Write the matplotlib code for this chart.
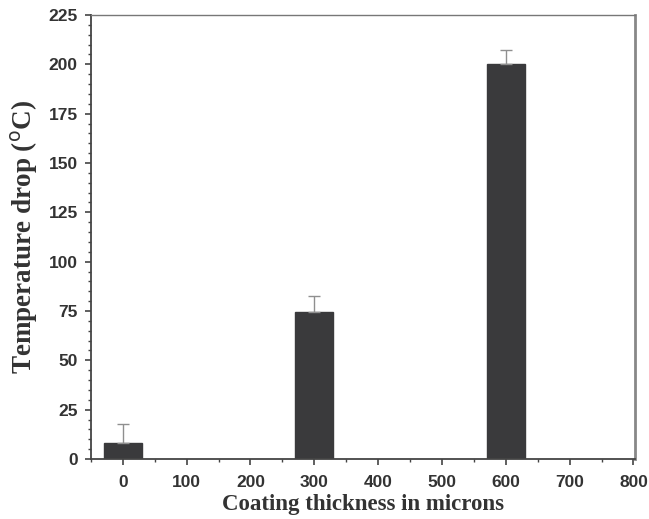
import matplotlib
matplotlib.use("Agg")
import matplotlib.pyplot as plt
from matplotlib.ticker import MultipleLocator

# data
thickness = [0, 300, 600]          # microns
temp_drop = [8, 74.6, 200]         # deg C
temp_err = [9.7, 8.2, 7.3]

fig = plt.figure(figsize=(6.49, 5.19), dpi=100)
ax = fig.add_axes([0.140, 0.1156, 0.838, 0.8555])

ax.bar(thickness, temp_drop, width=60, color="#3a3a3c", edgecolor="#3a3a3c",
       zorder=2)
ax.errorbar(thickness, temp_drop, yerr=[[0, 0, 0], temp_err], fmt="none",
            ecolor="#8f8f8f", elinewidth=1.0, capsize=4, capthick=1.0, zorder=3)

ax.set_xlim(-50, 802)
ax.set_ylim(0, 225)
ax.xaxis.set_major_locator(MultipleLocator(100))
ax.xaxis.set_minor_locator(MultipleLocator(50))
ax.yaxis.set_major_locator(MultipleLocator(25))
ax.yaxis.set_minor_locator(MultipleLocator(5))
ax.tick_params(which="both", direction="out", color="#444444")
ax.tick_params(which="major", length=4.5, width=1.2)
ax.tick_params(which="minor", length=2.5, width=1.0)
ax.tick_params(axis="x", which="major", pad=7)
ax.tick_params(axis="y", which="major", pad=5)

for lb in ax.get_xticklabels() + ax.get_yticklabels():
    lb.set_fontfamily("Liberation Sans")
    lb.set_fontweight("bold")
    lb.set_fontsize(12.5)
    lb.set_color("#333333")

for s in ["left", "bottom"]:
    ax.spines[s].set_linewidth(1.3)
    ax.spines[s].set_color("#444444")
ax.spines["top"].set_linewidth(1.0)
ax.spines["top"].set_color("#777777")
ax.spines["right"].set_linewidth(2.0)
ax.spines["right"].set_color("#888888")

ax.set_xlabel("Coating thickness in microns", fontfamily="Liberation Serif",
              fontweight="bold", fontsize=16.5, color="#333333", labelpad=3)
ax.set_ylabel(r"Temperature drop ($^{\mathrm{o}}$C)", fontfamily="Liberation Serif",
              fontweight="bold", fontsize=19.5, color="#333333", labelpad=6)

fig.savefig("out.png", dpi=100)
